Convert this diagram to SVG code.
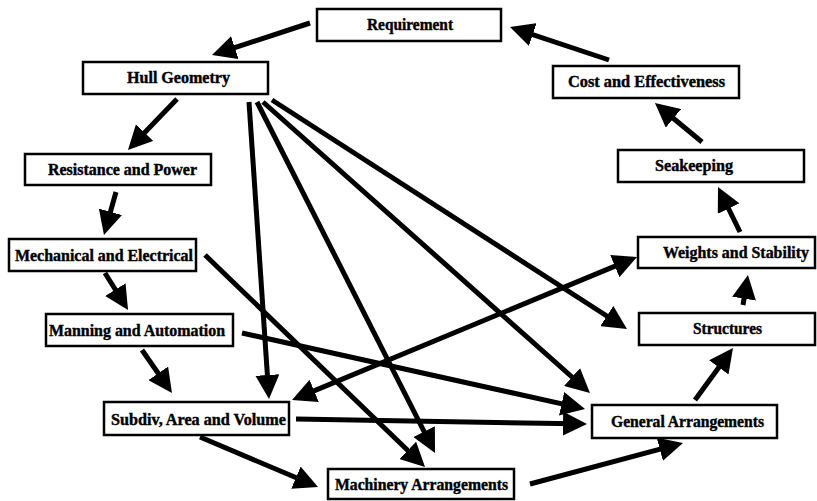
<svg xmlns="http://www.w3.org/2000/svg" width="817" height="501" viewBox="0 0 817 501">
  <defs>
    <marker id="head" viewBox="0 0 24 24" markerWidth="24" markerHeight="24" refX="12" refY="12" markerUnits="userSpaceOnUse" orient="auto-start-reverse">
      <path d="M0,0 L24,12 L0,24 z" fill="#000"/>
    </marker>
    <style>
      .box { fill: #fff; stroke: #000; stroke-width: 2.5; }
      .lbl { font-family: "Liberation Serif", "DejaVu Serif", serif; font-weight: bold; font-size: 16px; fill: #000; stroke: #000; stroke-width: 0.4; }
      .edge { stroke: #000; stroke-width: 5; fill: none; marker-end: url(#head); }
      .both { marker-start: url(#head); }
    </style>
  </defs>
  <rect width="817" height="501" fill="#fff"/>

  <g id="connectors">
    <!-- design spiral -->
    <line class="edge" x1="310" y1="23" x2="223.4" y2="51.3"/>
    <line class="edge" x1="177" y1="99" x2="136.3" y2="141.3"/>
    <line class="edge" x1="116" y1="192" x2="107.2" y2="223.4"/>
    <line class="edge" x1="105" y1="273" x2="121.7" y2="299.8"/>
    <line class="edge" x1="142" y1="350" x2="165.1" y2="383.2"/>
    <line class="edge" x1="200" y1="437" x2="307.0" y2="482.3"/>
    <line class="edge" x1="530" y1="484" x2="671.4" y2="446.1"/>
    <line class="edge" x1="695" y1="400" x2="725.9" y2="357.7"/>
    <line class="edge" x1="743" y1="305" x2="746.0" y2="286.8"/>
    <line class="edge" x1="740" y1="232" x2="723.3" y2="197.8"/>
    <line class="edge" x1="702" y1="142" x2="664.2" y2="110.7"/>
    <line class="edge" x1="609" y1="60" x2="521.4" y2="30.8"/>
    <!-- hull geometry fan -->
    <line class="edge" x1="249" y1="102" x2="268.2" y2="387.0"/>
    <line class="edge" x1="257" y1="102" x2="429.6" y2="442.3"/>
    <line class="edge" x1="263" y1="102" x2="581.0" y2="385.0"/>
    <line class="edge" x1="272" y1="100" x2="616.9" y2="322.5"/>
    <!-- cross links -->
    <line class="edge" x1="205" y1="255" x2="416.4" y2="458.7"/>
    <line class="edge" x1="242" y1="333" x2="573.3" y2="406.4"/>
    <line class="edge" x1="296" y1="419" x2="575.0" y2="423.8"/>
    <line class="edge both" x1="303.1" y1="395.4" x2="625.9" y2="261.6"/>
  </g>

  <g id="requirement">
    <rect class="box" x="317" y="9" width="184" height="32"/>
    <text class="lbl" x="367" y="30" textLength="86" lengthAdjust="spacingAndGlyphs">Requirement</text>
  </g>
  <g id="hull-geometry">
    <rect class="box" x="83" y="62" width="185" height="32"/>
    <text class="lbl" x="127" y="83" textLength="103" lengthAdjust="spacingAndGlyphs">Hull Geometry</text>
  </g>
  <g id="cost-effectiveness">
    <rect class="box" x="553" y="66" width="186" height="32"/>
    <text class="lbl" x="568" y="87" textLength="157" lengthAdjust="spacingAndGlyphs">Cost and Effectiveness</text>
  </g>
  <g id="seakeeping">
    <rect class="box" x="618" y="150" width="186" height="32"/>
    <text class="lbl" x="655" y="171" textLength="78" lengthAdjust="spacingAndGlyphs">Seakeeping</text>
  </g>
  <g id="resistance-power">
    <rect class="box" x="25" y="154" width="186" height="31"/>
    <text class="lbl" x="48" y="175" textLength="149" lengthAdjust="spacingAndGlyphs">Resistance and Power</text>
  </g>
  <g id="mechanical-electrical">
    <rect class="box" x="9" y="239" width="187" height="32"/>
    <text class="lbl" x="15" y="261" textLength="178" lengthAdjust="spacingAndGlyphs">Mechanical and Electrical</text>
  </g>
  <g id="manning-automation">
    <rect class="box" x="46" y="314" width="187" height="32"/>
    <text class="lbl" x="49" y="336" textLength="176" lengthAdjust="spacingAndGlyphs">Manning and Automation</text>
  </g>
  <g id="weights-stability">
    <rect class="box" x="638" y="237" width="177" height="31"/>
    <text class="lbl" x="663" y="258" textLength="146" lengthAdjust="spacingAndGlyphs">Weights and Stability</text>
  </g>
  <g id="structures">
    <rect class="box" x="639" y="313" width="176" height="32"/>
    <text class="lbl" x="693" y="334" textLength="69" lengthAdjust="spacingAndGlyphs">Structures</text>
  </g>
  <g id="subdiv-area-volume">
    <rect class="box" x="104" y="402" width="185" height="33"/>
    <text class="lbl" x="111" y="425" textLength="175" lengthAdjust="spacingAndGlyphs">Subdiv, Area and Volume</text>
  </g>
  <g id="general-arrangements">
    <rect class="box" x="592" y="405" width="185" height="33"/>
    <text class="lbl" x="611" y="427" textLength="153" lengthAdjust="spacingAndGlyphs">General Arrangements</text>
  </g>
  <g id="machinery-arrangements">
    <rect class="box" x="328" y="469" width="186" height="30"/>
    <text class="lbl" x="335" y="490" textLength="173" lengthAdjust="spacingAndGlyphs">Machinery Arrangements</text>
  </g>
</svg>
